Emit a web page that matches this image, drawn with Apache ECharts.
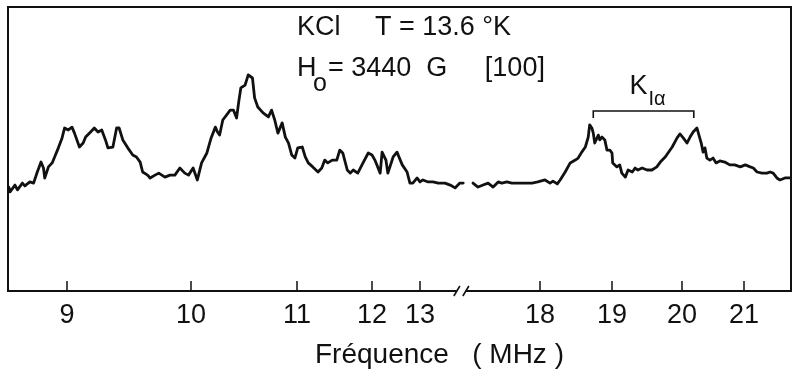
<!DOCTYPE html>
<html>
<head>
<meta charset="utf-8">
<script src="https://cdn.jsdelivr.net/npm/echarts@6/dist/echarts.min.js"></script>
<style>
  html, body { margin: 0; padding: 0; background: #fff; }
  #chart { width: 793px; height: 374px; }
</style>
</head>
<body>
<div id="chart"></div>
<script>
// Frequency tick labels (MHz) and their places along the recorder sweep (0-100 sweep units).
// The sweep is not linear in frequency, and is interrupted between 13 and 18 MHz.
const tickFreqs = [9, 10, 11, 12, 13, 18, 19, 20, 21];
const tickSweep = [7.54, 23.37, 36.91, 46.49, 52.62, 67.94, 77.14, 86.08, 94.0];

// Low-frequency part of the ENDOR trace: frequency (MHz) and signal (arb. units)
const lowFreq = [8.53, 8.54, 8.58, 8.60, 8.64, 8.66, 8.70, 8.73, 8.76, 8.79, 8.81, 8.82, 8.85, 8.88, 8.90, 8.93, 8.96, 8.98,
  9.01, 9.04, 9.06, 9.10, 9.13, 9.15, 9.19, 9.22, 9.25, 9.28, 9.31, 9.33, 9.37, 9.40, 9.42, 9.45, 9.49, 9.53, 9.56, 9.59,
  9.61, 9.65, 9.67, 9.71, 9.74, 9.79, 9.83, 9.87, 9.91, 9.95, 9.98, 10.02, 10.06, 10.07, 10.10, 10.15, 10.19, 10.23,
  10.25, 10.27, 10.30, 10.37, 10.40, 10.43, 10.45, 10.47, 10.51, 10.54, 10.58, 10.60, 10.63, 10.68, 10.73, 10.76,
  10.79, 10.82, 10.86, 10.89, 10.92, 10.95, 10.98, 11.01, 11.07, 11.11, 11.15, 11.21, 11.28, 11.33, 11.37, 11.41,
  11.47, 11.53, 11.57, 11.61, 11.67, 11.71, 11.75, 11.81, 11.88, 11.95, 12.00, 12.06, 12.17, 12.21, 12.29, 12.33,
  12.44, 12.52, 12.63, 12.67, 12.73, 12.79, 12.85, 12.94, 13.00, 13.06, 13.17, 13.27, 13.38, 13.52, 13.63, 13.73,
  13.83, 13.90];
const lowSignal = [36.6, 34.9, 37.3, 35.6, 38.0, 37.0, 38.4, 38.0, 41.9, 45.4, 43.3, 39.8, 43.7, 45.1, 47.2, 50.4, 53.9, 57.4,
  56.7, 57.7, 55.6, 50.7, 52.1, 54.2, 56.0, 57.4, 56.0, 56.7, 53.2, 50.4, 50.7, 57.4, 57.4, 53.2, 50.4, 47.9, 47.2, 45.4,
  41.9, 40.8, 39.8, 40.8, 41.5, 40.1, 40.8, 40.8, 43.3, 41.5, 40.8, 43.3, 39.1, 38.4, 45.1, 48.6, 53.9, 57.7,
  56.0, 54.9, 60.2, 63.7, 63.7, 60.9, 66.5, 71.5, 72.5, 76.1, 75.0, 68.0, 64.8, 62.7, 61.3, 63.7,
  60.2, 55.6, 59.2, 54.2, 52.1, 47.9, 46.8, 50.4, 50.7, 47.2, 45.1, 43.7, 41.9, 43.3, 46.1, 45.1,
  46.1, 46.1, 49.6, 48.6, 42.6, 41.5, 42.6, 41.5, 45.1, 48.6, 47.9, 46.1, 41.5, 48.9, 46.1, 41.5,
  47.2, 48.9, 44.4, 45.1, 41.9, 38.0, 38.0, 39.8, 38.4, 39.1, 38.4, 38.4, 38.0, 38.0, 37.3, 36.3,
  38.0, 38.0];

// High-frequency part of the trace (K1α lines)
const highFreq = [17.07, 17.14, 17.21, 17.28, 17.35, 17.42, 17.47, 17.54, 17.61, 17.69, 17.79, 17.89, 17.97, 18.07, 18.14,
  18.18, 18.24, 18.28, 18.35, 18.42, 18.49, 18.53, 18.58, 18.63, 18.67, 18.69, 18.72, 18.74, 18.76, 18.81, 18.83, 18.86,
  18.90, 18.93, 18.97, 19.00, 19.01, 19.07, 19.11, 19.14, 19.19, 19.23, 19.29, 19.33, 19.37, 19.43, 19.50, 19.57, 19.64,
  19.69, 19.76, 19.86, 19.93, 19.97, 20.02, 20.08, 20.13, 20.18, 20.24, 20.27, 20.31, 20.34, 20.37, 20.40, 20.45, 20.50,
  20.55, 20.61, 20.69, 20.77, 20.85, 20.94, 21.02, 21.10, 21.15, 21.21, 21.29, 21.37, 21.42, 21.47, 21.53, 21.58, 21.66,
  21.74];
const highSignal = [38.0, 36.6, 37.3, 38.0, 36.6, 38.4, 38.0, 38.4, 38.0, 38.0, 38.0, 38.0, 38.4, 39.1, 38.0,
  38.7, 37.7, 39.1, 41.9, 45.1, 46.1, 46.8, 48.9, 50.7, 54.2, 58.5, 57.4, 55.6, 52.1, 54.9, 53.2, 54.2,
  53.2, 49.6, 49.6, 48.6, 45.1, 43.7, 44.4, 41.5, 40.1, 42.6, 41.9, 43.3, 42.6, 43.3, 42.6, 42.6, 43.7,
  45.4, 47.2, 50.7, 53.9, 55.3, 53.9, 52.1, 54.2, 56.0, 57.4, 56.7, 52.1, 48.9, 50.4, 46.8, 46.1, 46.8,
  45.1, 45.8, 45.4, 44.4, 44.4, 43.7, 44.4, 43.7, 43.3, 41.9, 41.5, 41.5, 41.9, 41.5, 39.8, 39.1, 39.8,
  39.8];

// Frequency span of the K1α doublet bracket (MHz)
const kBracket = [18.74, 20.19];

// Convert a frequency to sweep units, piecewise-linear on the calibration,
// each side of the interruption extrapolated with its own end slope.
function toSweep(f) {
  const idx = f < 15.5 ? [0, 1, 2, 3, 4] : [5, 6, 7, 8];
  let k = 0;
  while (k < idx.length - 2 && f > tickFreqs[idx[k + 1]]) k++;
  const a = idx[k], b = idx[k + 1];
  return tickSweep[a] + (f - tickFreqs[a]) * (tickSweep[b] - tickSweep[a]) / (tickFreqs[b] - tickFreqs[a]);
}

const traceData = [];
lowFreq.forEach((f, i) => traceData.push([toSweep(f), lowSignal[i]]));
traceData.push([toSweep(15.5), null]);
highFreq.forEach((f, i) => traceData.push([toSweep(f), highSignal[i]]));

const breakSweep = 57.9;
const INK = '#111';
const FONT = '"Liberation Sans", Arial, sans-serif';

const chart = echarts.init(document.getElementById('chart'), null, { renderer: 'canvas' });

chart.setOption({
  animation: false,
  backgroundColor: '#fff',
  grid: {
    left: 8, right: 2, top: 7, bottom: 83,
    show: true, borderColor: INK, borderWidth: 2, backgroundColor: 'transparent'
  },
  xAxis: {
    type: 'value', min: 0, max: 100,
    axisLine: { show: false },
    splitLine: { show: false },
    axisTick: {
      show: true, inside: true, length: 10,
      customValues: tickFreqs.map(toSweep),
      lineStyle: { color: INK, width: 1.5 }
    },
    axisLabel: {
      show: true,
      customValues: tickFreqs.map(toSweep),
      margin: 11,
      fontSize: 27, fontFamily: FONT, color: INK,
      formatter: v => {
        let best = 0;
        tickFreqs.forEach((f, i) => {
          if (Math.abs(toSweep(f) - v) < Math.abs(toSweep(tickFreqs[best]) - v)) best = i;
        });
        return String(tickFreqs[best]);
      }
    }
  },
  yAxis: {
    type: 'value', min: 0, max: 100,
    axisLine: { show: false }, axisTick: { show: false },
    axisLabel: { show: false }, splitLine: { show: false }
  },
  graphic: [
    { type: 'text', x: 297, y: 28, style: { text: 'KCl', font: '27px ' + FONT, fill: INK, verticalAlign: 'middle' } },
    { type: 'text', x: 375, y: 28, style: { text: 'T = 13.6 °K', font: '27px ' + FONT, fill: INK, verticalAlign: 'middle' } },
    { type: 'text', x: 297, y: 69, style: { text: 'H', font: '27px ' + FONT, fill: INK, verticalAlign: 'middle' } },
    { type: 'text', x: 313, y: 84, style: { text: 'o', font: '25px ' + FONT, fill: INK, verticalAlign: 'middle' } },
    { type: 'text', x: 328, y: 69, style: { text: '= 3440  G     [100]', font: '27px ' + FONT, fill: INK, verticalAlign: 'middle' } },
    { type: 'text', x: 315, y: 355, style: { text: 'Fréquence   ( MHz )', font: '28px ' + FONT, fill: INK, verticalAlign: 'middle' } }
  ],
  series: [
    {
      type: 'line',
      data: traceData,
      showSymbol: false,
      connectNulls: false,
      lineStyle: { color: INK, width: 2.8, join: 'round', cap: 'round' },
      z: 3
    },
    {
      // K1α bracket with its label
      type: 'custom',
      data: [[0, 0]],
      silent: true,
      clip: false,
      z: 4,
      renderItem: (params, api) => {
        const p1 = api.coord([toSweep(kBracket[0]), 63.4]);
        const p2 = api.coord([toSweep(kBracket[1]), 63.4]);
        const drop = 7;
        const cx = (p1[0] + p2[0]) / 2;
        return {
          type: 'group',
          children: [
            {
              type: 'polyline',
              shape: { points: [[p1[0], p1[1] + drop], [p1[0], p1[1]], [p2[0], p2[1]], [p2[0], p2[1] + drop]] },
              style: { stroke: INK, lineWidth: 1.6, fill: null }
            },
            { type: 'text', x: cx - 14, y: p1[1] - 24, style: { text: 'K', font: '27px ' + FONT, fill: INK, verticalAlign: 'middle' } },
            { type: 'text', x: cx + 5, y: p1[1] - 11, style: { text: 'Iα', font: '20px ' + FONT, fill: INK, verticalAlign: 'middle' } }
          ]
        };
      }
    },
    {
      // interruption mark on the frequency axis
      type: 'custom',
      data: [[0, 0]],
      silent: true,
      clip: false,
      z: 5,
      renderItem: (params, api) => {
        const p = api.coord([breakSweep, 0]);
        const s1 = p[0] - 4.5, s2 = p[0] + 4.5;
        return {
          type: 'group',
          children: [
            { type: 'rect', shape: { x: s1, y: p[1] - 3, width: s2 - s1, height: 6 }, style: { fill: '#fff' } },
            { type: 'line', shape: { x1: s1 - 3, y1: p[1] + 5, x2: s1 + 3, y2: p[1] - 5 }, style: { stroke: INK, lineWidth: 1.6 } },
            { type: 'line', shape: { x1: s2 - 3, y1: p[1] + 5, x2: s2 + 3, y2: p[1] - 5 }, style: { stroke: INK, lineWidth: 1.6 } }
          ]
        };
      }
    }
  ]
});
</script>
</body>
</html>
